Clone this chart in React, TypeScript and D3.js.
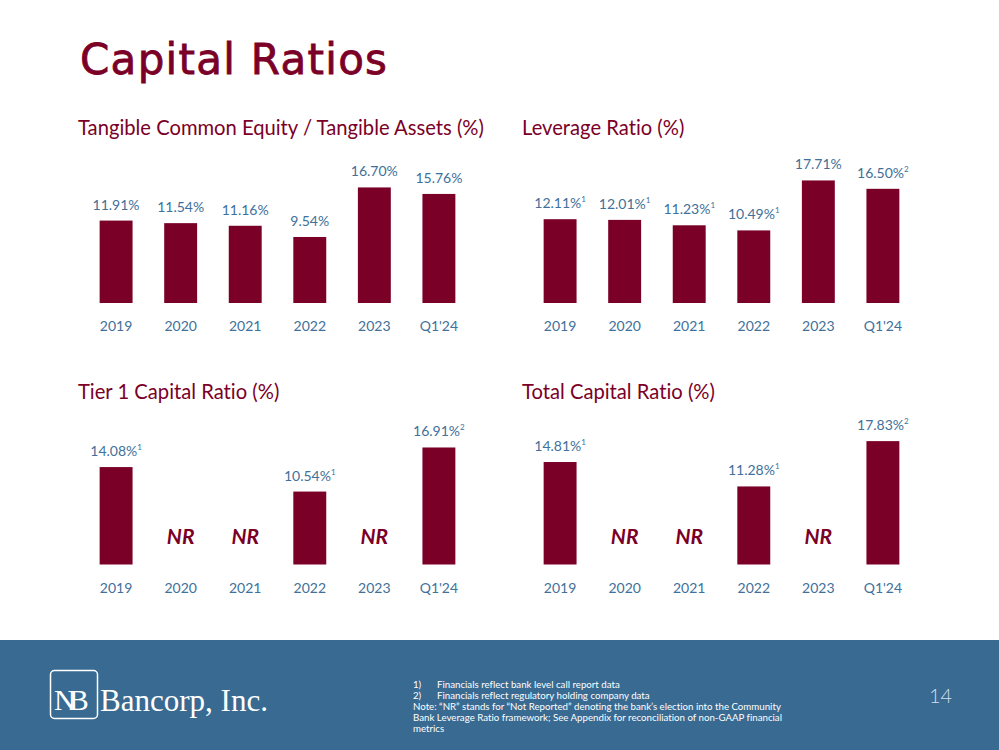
import * as d3 from "d3";

// categories and series
const categories = ["2019", "2020", "2021", "2022", "2023", "Q1'24"];

const tceValues = [11.91, 11.54, 11.16, 9.54, 16.7, 15.76];
const tceNotes: (number | null)[] = [null, null, null, null, null, null];

const leverageValues = [12.11, 12.01, 11.23, 10.49, 17.71, 16.5];
const leverageNotes: (number | null)[] = [1, 1, 1, 1, null, 2];

const tier1Values: (number | null)[] = [14.08, null, null, 10.54, null, 16.91];
const tier1Notes: (number | null)[] = [1, null, null, 1, null, 2];

const totalValues: (number | null)[] = [14.81, null, null, 11.28, null, 17.83];
const totalNotes: (number | null)[] = [1, null, null, 1, null, 2];

const footnotes = [
  ["1)", "Financials reflect bank level call report data"],
  ["2)", "Financials reflect regulatory holding company data"],
  ["", "Note: \u201cNR\u201d stands for \u201cNot Reported\u201d denoting the bank\u2019s election into the Community"],
  ["", "Bank Leverage Ratio framework; See Appendix for reconciliation of non-GAAP financial"],
  ["", "metrics"],
];

const MAROON = "#7B0028";
const BLUE = "#41709A";
const FOOTER = "#386A92";
const FONT = "Lato, 'Open Sans', sans-serif";
const NO_LIGA = { fontVariantLigatures: "none" as const, fontFeatureSettings: "'liga' 0" };

interface PanelProps {
  title: string;
  values: (number | null)[];
  notes: (number | null)[];
  x0: number;
  titleY: number;
  baseline: number;
}

function Panel({ title, values, notes, x0, titleY, baseline }: PanelProps) {
  const x = d3.scaleBand<string>().domain(categories).range([x0, x0 + 419]).padding(0.49);
  const y = d3.scaleLinear().domain([0, 20]).range([baseline, baseline - 138.4]);
  const bw = x.bandwidth();

  return (
    <g>
      <text x={x0 + 10} y={titleY} fill={MAROON} fontFamily={FONT} fontSize={20.2} style={NO_LIGA}>
        {title}
      </text>
      {categories.map((c, i) => {
        const v = values[i];
        const cx = (x(c) ?? 0) + bw / 2;
        return (
          <g key={c}>
            {v != null ? (
              <>
                <rect x={x(c)} y={y(v)} width={bw} height={baseline - y(v)} fill={MAROON} />
                <text
                  x={cx}
                  y={y(v) - 11}
                  textAnchor="middle"
                  fill={BLUE}
                  fontFamily={FONT}
                  fontSize={14}
                >
                  {v.toFixed(2) + "%"}
                  {notes[i] != null && (
                    <tspan fontSize={8} dy={-6}>
                      {String(notes[i])}
                    </tspan>
                  )}
                </text>
              </>
            ) : (
              <text
                x={cx}
                y={baseline - 20.5}
                textAnchor="middle"
                fill={MAROON}
                fontFamily={FONT}
                fontSize={21}
                fontWeight={700}
                fontStyle="italic"
              >
                NR
              </text>
            )}
            <text x={cx} y={baseline + 28} textAnchor="middle" fill={BLUE} fontFamily={FONT} fontSize={14}>
              {c}
            </text>
          </g>
        );
      })}
    </g>
  );
}

export default function App() {
  return (
    <svg
      width={999}
      height={750}
      style={{ position: "absolute", left: 0, top: 0, display: "block", background: "#fff" }}
    >
      <rect width={999} height={750} fill="#fff" />
      <text
        x={80}
        y={74}
        fill={MAROON}
        fontFamily="'DejaVu Sans', sans-serif"
        fontSize={42}
        stroke={MAROON}
        strokeWidth={0.8}
        textLength={307}
        lengthAdjust="spacing"
      >
        Capital Ratios
      </text>

      <Panel
        title="Tangible Common Equity / Tangible Assets (%)"
        values={tceValues}
        notes={tceNotes}
        x0={68}
        titleY={135}
        baseline={303}
      />
      <Panel
        title="Leverage Ratio (%)"
        values={leverageValues}
        notes={leverageNotes}
        x0={512}
        titleY={135}
        baseline={303}
      />
      <Panel
        title="Tier 1 Capital Ratio (%)"
        values={tier1Values}
        notes={tier1Notes}
        x0={68}
        titleY={399}
        baseline={564.5}
      />
      <Panel
        title="Total Capital Ratio (%)"
        values={totalValues}
        notes={totalNotes}
        x0={512}
        titleY={399}
        baseline={564.5}
      />

      {/* footer band */}
      <rect x={0} y={640} width={999} height={110} fill={FOOTER} />
      <rect x={50.5} y={670.5} width={47} height={48} rx={4} fill="none" stroke="#fff" strokeWidth={1.5} />
      <text x={54} y={710} fill="#fff" fontFamily="'Liberation Serif', serif" fontSize={30} letterSpacing={-7}>
        NB
      </text>
      <text
        x={100}
        y={711}
        fill="#fff"
        fontFamily="'Liberation Serif', serif"
        fontSize={31}
        textLength={168}
        lengthAdjust="spacingAndGlyphs"
      >
        Bancorp, Inc.
      </text>

      {footnotes.map(([num, txt], i) => (
        <g key={i} fill="#fff" fontFamily={FONT} fontSize={9.7} style={NO_LIGA}>
          {num ? (
            <>
              <text x={413} y={687.5 + i * 11.2}>{num}</text>
              <text x={437} y={687.5 + i * 11.2}>{txt}</text>
            </>
          ) : (
            <text x={413} y={687.5 + i * 11.2}>{txt}</text>
          )}
        </g>
      ))}

      <text x={929} y={703} fill="#D3DEE9" fontFamily={FONT} fontWeight={300} fontSize={20}>
        14
      </text>
    </svg>
  );
}
